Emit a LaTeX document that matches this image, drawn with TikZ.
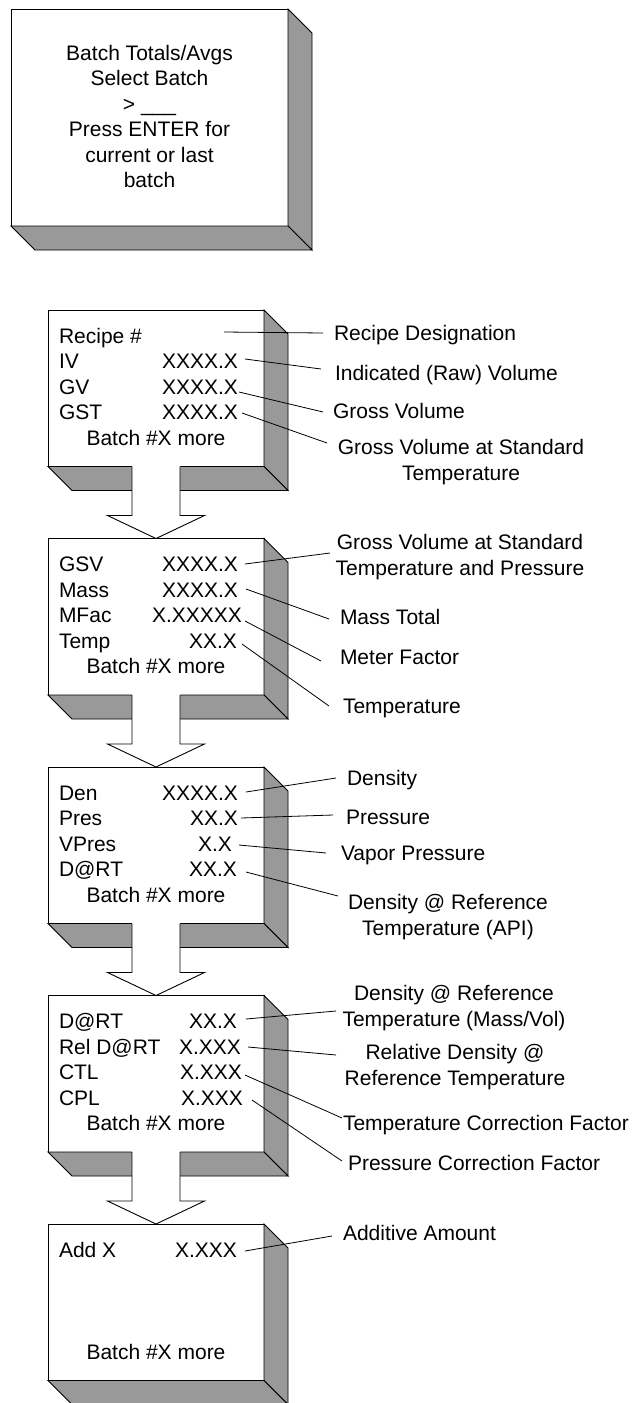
\documentclass[tikz,border=0pt]{standalone}
\usepackage{fontspec}
\setmainfont{Liberation Sans}
\definecolor{facegray}{RGB}{153,153,153}
\tikzset{
  front/.style={draw, fill=white, line width=0.9pt, inner sep=0pt, outer sep=0pt, anchor=north west},
  sideface/.style={draw, fill=facegray, line width=0.9pt, line join=miter},
  txt/.style={inner sep=0pt, outer sep=0pt, font=\fontsize{21}{25.5}\selectfont},
  leader/.style={line width=0.8pt},
  blockarrow/.style={line width=0.9pt},
}
\newcommand\slabshadow[1]{%
  \draw[sideface] (#1.north east) -- ++(24,24) -- ([shift={(24,24)}]#1.south east) -- (#1.south east) -- cycle;
  \draw[sideface] (#1.south west) -- (#1.south east) -- ++(24,24) -- ([shift={(24,24)}]#1.south west) -- cycle;}
\newcommand\slabarrow[2]{%
  \fill[white] ([shift={(-24,-1)}]#1.south) -- ([shift={(-24,49)}]#1.south) -- ([shift={(-48.5,49)}]#1.south) -- (#2.north) -- ([shift={(48.5,49)}]#1.south) -- ([shift={(24,49)}]#1.south) -- ([shift={(24,-1)}]#1.south) -- cycle;
  \draw[blockarrow] ([xshift=-24]#1.south) -- ([shift={(-24,49)}]#1.south) -- ([shift={(-48.5,49)}]#1.south) -- (#2.north) -- ([shift={(48.5,49)}]#1.south) -- ([shift={(24,49)}]#1.south) -- ([xshift=24]#1.south);}
\begin{document}
\begin{tikzpicture}[x=1pt,y=-1pt]
\useasboundingbox (0,0) rectangle (639,1403);
% ---------- box 1
\node[front, minimum width=277pt, minimum height=217pt] (b1) at (11,9) {};
\slabshadow{b1}
\node[txt, align=center, anchor=north] (t1) at (149.5,45) {Batch Totals/Avgs\\Select Batch\\> \_\_\_\\Press ENTER for\\current or last\\batch};
% ---------- front boxes
\node[front, minimum width=216pt, minimum height=156.5pt] (b2) at (48,310) {};
\node[front, minimum width=216pt, minimum height=156.5pt] (b3) at (48,538.5) {};
\node[front, minimum width=216pt, minimum height=156.5pt] (b4) at (48,767) {};
\node[front, minimum width=216pt, minimum height=156.5pt] (b5) at (48,995.5) {};
\node[front, minimum width=216pt, minimum height=156.5pt] (b6) at (48,1224) {};
\slabshadow{b2}
\slabshadow{b3}
\slabshadow{b4}
\slabshadow{b5}
\slabshadow{b6}
\slabarrow{b2}{b3}
\slabarrow{b3}{b4}
\slabarrow{b4}{b5}
\slabarrow{b5}{b6}
% ---------- box 2 text
\node[txt, anchor=base west] (k21) at (59,343) {Recipe \#};
\node[txt, anchor=base west] (k22) at (59,368.5) {IV};
\node[txt, anchor=base east] (v22) at (238,368.5) {XXXX.X};
\node[txt, anchor=base west] (k23) at (59,394) {GV};
\node[txt, anchor=base east] (v23) at (238,394) {XXXX.X};
\node[txt, anchor=base west] (k24) at (59,419.5) {GST};
\node[txt, anchor=base east] (v24) at (238,419.5) {XXXX.X};
\node[txt, anchor=base] (m2) at (156,445) {Batch \#X more};
% ---------- box 3 text
\node[txt, anchor=base west] (k31) at (59,571.5) {GSV};
\node[txt, anchor=base east] (v31) at (238,571.5) {XXXX.X};
\node[txt, anchor=base west] (k32) at (59,597) {Mass};
\node[txt, anchor=base east] (v32) at (238,597) {XXXX.X};
\node[txt, anchor=base west] (k33) at (59,622.5) {MFac};
\node[txt, anchor=base east] (v33) at (242,622.5) {X.XXXXX};
\node[txt, anchor=base west] (k34) at (59,648) {Temp};
\node[txt, anchor=base east] (v34) at (237,648) {XX.X};
\node[txt, anchor=base] (m3) at (156,673.5) {Batch \#X more};
% ---------- box 4 text
\node[txt, anchor=base west] (k41) at (59,800) {Den};
\node[txt, anchor=base east] (v41) at (238,800) {XXXX.X};
\node[txt, anchor=base west] (k42) at (59,825.5) {Pres};
\node[txt, anchor=base east] (v42) at (238,825.5) {XX.X};
\node[txt, anchor=base west] (k43) at (59,851) {VPres};
\node[txt, anchor=base east] (v43) at (232,851) {X.X};
\node[txt, anchor=base west] (k44) at (59,876.5) {D@RT};
\node[txt, anchor=base east] (v44) at (237,876.5) {XX.X};
\node[txt, anchor=base] (m4) at (156,902) {Batch \#X more};
% ---------- box 5 text
\node[txt, anchor=base west] (k51) at (59,1028.5) {D@RT};
\node[txt, anchor=base east] (v51) at (237,1028.5) {XX.X};
\node[txt, anchor=base west] (k52) at (59,1054) {Rel D@RT};
\node[txt, anchor=base east] (v52) at (241,1054) {X.XXX};
\node[txt, anchor=base west] (k53) at (59,1079.5) {CTL};
\node[txt, anchor=base east] (v53) at (242,1079.5) {X.XXX};
\node[txt, anchor=base west] (k54) at (59,1105) {CPL};
\node[txt, anchor=base east] (v54) at (243,1105) {X.XXX};
\node[txt, anchor=base] (m5) at (156,1130.5) {Batch \#X more};
% ---------- box 6 text
\node[txt, anchor=base west] (k61) at (59,1257) {Add X};
\node[txt, anchor=base east] (v61) at (237,1257) {X.XXX};
\node[txt, anchor=base] (m6) at (156,1359) {Batch \#X more};
% ---------- labels
\node[txt, anchor=base west] (d21) at (334,340) {Recipe Designation};
\node[txt, anchor=base west] (d22) at (335,380) {Indicated (Raw) Volume};
\node[txt, anchor=base west] (d23) at (333,418) {Gross Volume};
\node[txt, anchor=north, align=center] (d24) at (461,439.5) {Gross Volume at Standard\\Temperature};
\node[txt, anchor=north, align=center] (d31) at (460,534.5) {Gross Volume at Standard\\Temperature and Pressure};
\node[txt, anchor=base west] (d32) at (340,624) {Mass Total};
\node[txt, anchor=base west] (d33) at (340,664) {Meter Factor};
\node[txt, anchor=base west] (d34) at (343,713) {Temperature};
\node[txt, anchor=base west] (d41) at (347,785) {Density};
\node[txt, anchor=base west] (d42) at (346,824) {Pressure};
\node[txt, anchor=base west] (d43) at (341,860) {Vapor Pressure};
\node[txt, anchor=north, align=center] (d44) at (448,894.5) {Density @ Reference\\Temperature (API)};
\node[txt, anchor=north, align=center] (d51) at (454,985.5) {Density @ Reference\\Temperature (Mass/Vol)};
\node[txt, anchor=north, align=center] (d52) at (455,1044.5) {Relative Density @\\Reference Temperature};
\node[txt, anchor=base west] (d53) at (343,1130) {Temperature Correction Factor};
\node[txt, anchor=base west] (d54) at (348,1170) {Pressure Correction Factor};
\node[txt, anchor=base west] (d61) at (343,1240) {Additive Amount};
% ---------- leader lines
\coordinate (a21) at (224,332);  \coordinate (e21) at (323,333);
\coordinate (a22) at (245,359);  \coordinate (e22) at (321,369);
\coordinate (a23) at (239,392);  \coordinate (e23) at (323,412);
\coordinate (a24) at (242,413);  \coordinate (e24) at (327,443);
\coordinate (a31) at (245,564);  \coordinate (e31) at (330,553);
\coordinate (a32) at (246,589);  \coordinate (e32) at (329,619);
\coordinate (a33) at (245,621);  \coordinate (e33) at (321,661);
\coordinate (a34) at (242,644);  \coordinate (e34) at (329,706);
\coordinate (a41) at (246,792);  \coordinate (e41) at (336,778);
\coordinate (a42) at (241,818);  \coordinate (e42) at (333,815);
\coordinate (a43) at (239,845);  \coordinate (e43) at (326,853);
\coordinate (a44) at (246,872);  \coordinate (e44) at (338,896);
\coordinate (a51) at (246,1019); \coordinate (e51) at (336,1011);
\coordinate (a52) at (248,1047); \coordinate (e52) at (336,1055);
\coordinate (a53) at (245,1075); \coordinate (e53) at (342,1118);
\coordinate (a54) at (252,1100); \coordinate (e54) at (342,1161);
\coordinate (a61) at (245,1251); \coordinate (e61) at (332,1236);
\foreach \n in {21,22,23,24,31,32,33,34,41,42,43,44,51,52,53,54,61}
  \draw[leader] (a\n) -- (e\n);
\end{tikzpicture}
\end{document}
